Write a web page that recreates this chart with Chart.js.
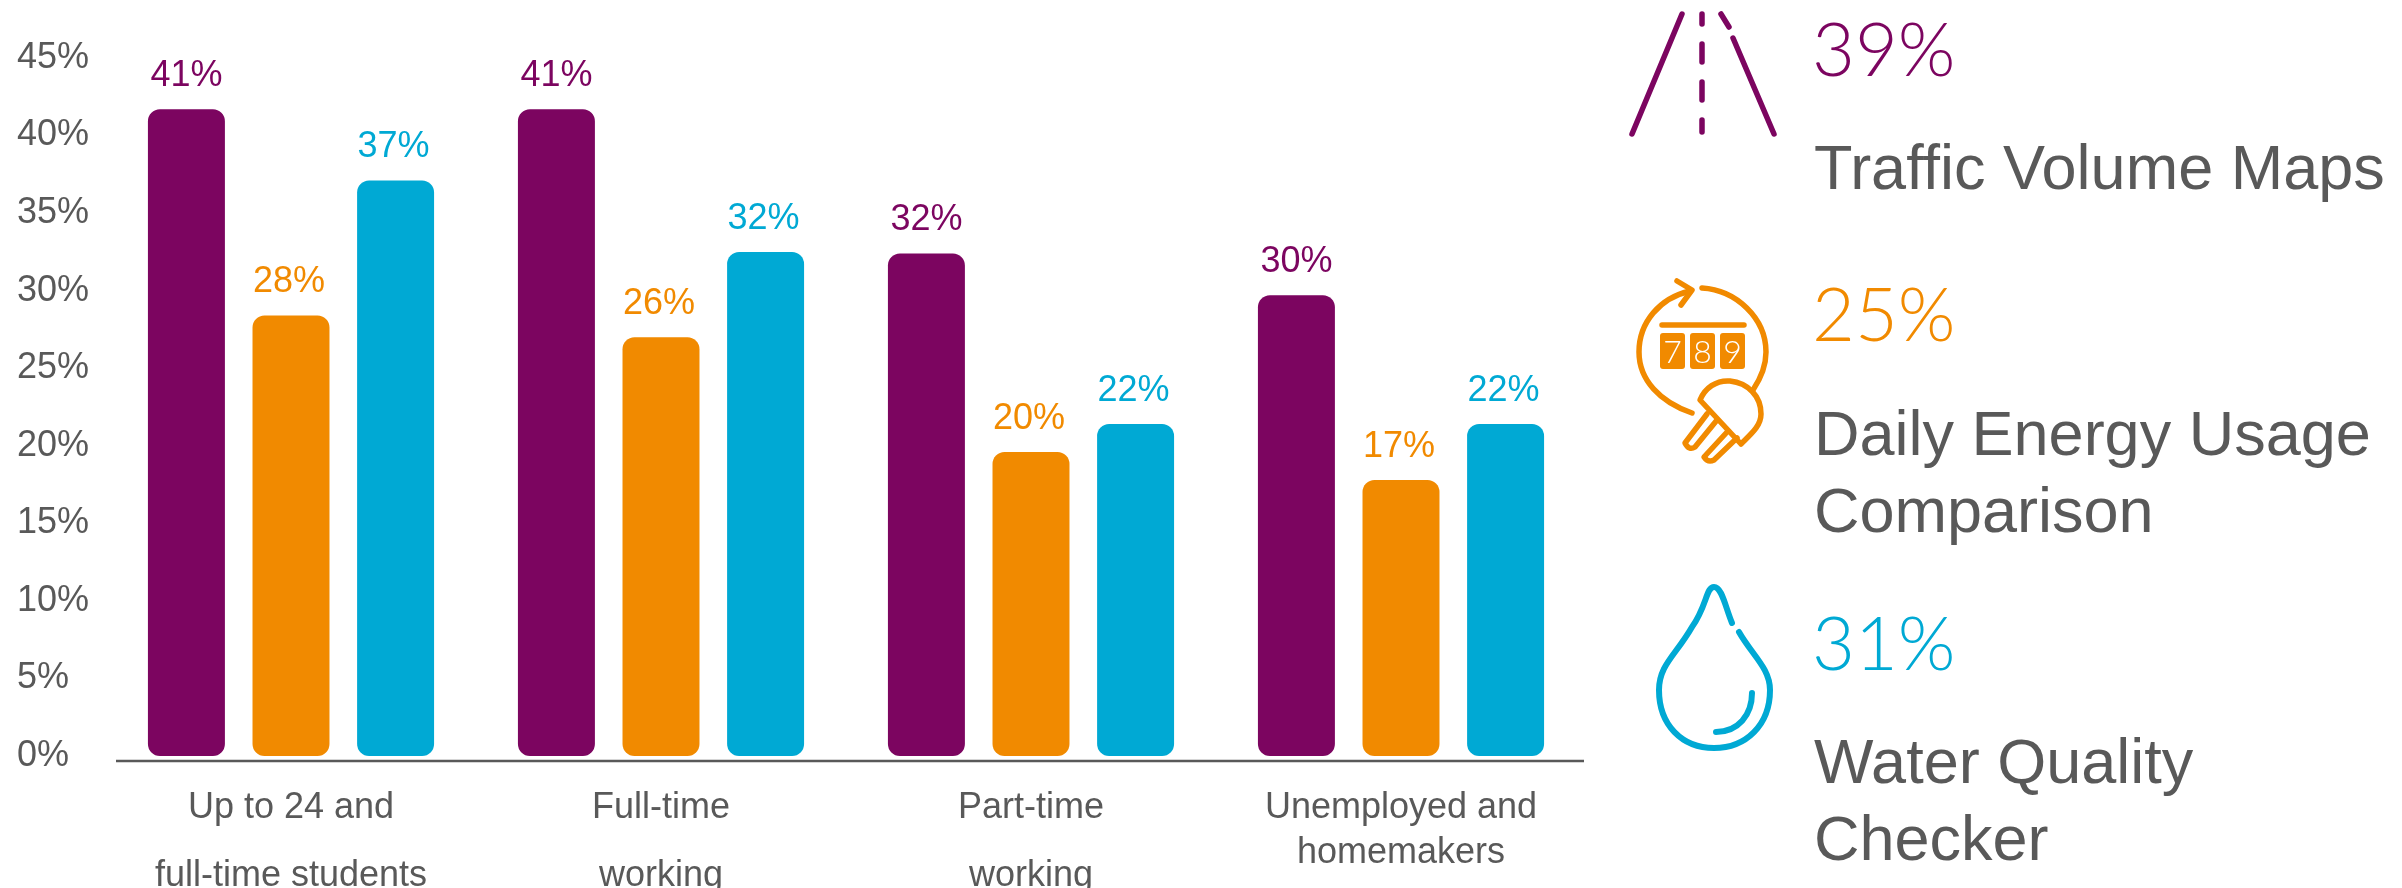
<!DOCTYPE html>
<html>
<head>
<meta charset="utf-8">
<title>Chart</title>
<script src="https://cdn.jsdelivr.net/npm/chart.js@4"></script>
<style>
  html, body { margin: 0; padding: 0; background: #fff; }
  #page { position: relative; width: 2402px; height: 888px; overflow: hidden; }
  #myChart { position: absolute; left: 0; top: 0; }
  #icons { position: absolute; left: 0; top: 0; }
  .pct { position: absolute; left: 1812px; font: 300 74px/80px Lato, "Open Sans", sans-serif; white-space: nowrap; }
  .name { position: absolute; left: 1814px; font: 63px/77px "Liberation Sans", Arial, sans-serif; color: #595959; white-space: nowrap; }
</style>
</head>
<body>
<div id="page">
  <canvas id="myChart" width="1600" height="888"></canvas>

  <svg id="icons" width="2402" height="888" fill="none" stroke-linecap="round" stroke-linejoin="round">
    <!-- road -->
    <g stroke="#7C0560" stroke-width="5.5">
      <path d="M1682 14 L1632 134 M1721 14 L1729 27 M1733 38 L1774 134"/>
      <path d="M1702 14 V24 M1702 44 V62 M1702 82 V100 M1702 120 V132"/>
    </g>
    <!-- energy meter -->
    <g stroke="#F18A00" stroke-width="5.5">
      <path d="M1702 288 C1736 290 1766 318 1766 352 C1766 366 1761 378 1753 390"/>
      <path d="M1692 413 C1660 402 1639 380 1639 352 C1639 322 1660 298 1690 291"/>
      <path d="M1677 281 L1692 290 L1681 305"/>
      <path d="M1662 325 H1744"/>
      <path d="M1700 400 C1705 388 1716 380 1730 381 C1748 383 1761 396 1761 414 C1761 426 1751 434 1741 444 Z"/>
      <path d="M1707 414 L1685 443 Q1689 451 1695 447 L1717 420"/>
      <path d="M1728 431 L1704 457 Q1708 463 1714 460 L1737 438"/>
    </g>
    <g fill="#F18A00">
      <rect x="1660" y="333" width="25" height="36" rx="3"/>
      <rect x="1690" y="333" width="25" height="36" rx="3"/>
      <rect x="1720" y="333" width="25" height="36" rx="3"/>
    </g>
    <g fill="#fff" font-family="Lato, sans-serif" font-weight="300" font-size="32" text-anchor="middle">
      <text x="1672.5" y="363">7</text>
      <text x="1702.5" y="363">8</text>
      <text x="1732.5" y="363">9</text>
    </g>
    <!-- water drop -->
    <g stroke="#00A9D4" stroke-width="6">
      <path d="M1732 623 C1725 606 1722 587 1714 587 C1706 587 1707 606 1692 627 C1676 655 1659 665 1659 690 C1659 725 1682 748 1714 748 C1746 748 1770 725 1770 690 C1770 668 1752 655 1739 632"/>
      <path d="M1752 693 C1752 715 1738 732 1716 732"/>
    </g>
  </svg>

  <div class="pct" id="pct0" style="top:8px;color:#7C0560"></div>
  <div class="name" id="name0" style="top:129px"></div>
  <div class="pct" id="pct1" style="top:273px;color:#F18A00"></div>
  <div class="name" id="name1" style="top:395px"></div>
  <div class="pct" id="pct2" style="top:602px;color:#00A9D4"></div>
  <div class="name" id="name2" style="top:723px"></div>
</div>

<script>
// blank strings space out the lines, the groups do not share a line spacing
const categorias = [
  ['Up to 24 and', '', '', 'full-time students'],
  ['Full-time', '', '', 'working'],
  ['Part-time', '', '', 'working'],
  ['Unemployed and', '', 'homemakers']
]
const ticksY = [0, 5, 10, 15, 20, 25, 30, 35, 40, 45]

const valoresTrafico = [41.7, 41.7, 32.4, 29.7]
const valoresEnergia = [28.4, 27, 19.6, 17.8]
const valoresAgua = [37.1, 32.5, 21.4, 21.4]

const etiquetasTrafico = [41, 41, 32, 30]
const etiquetasEnergia = [28, 26, 20, 17]
const etiquetasAgua = [37, 32, 22, 22]

const porcentajes = [39, 25, 31]
const nombres = [
  'Traffic Volume Maps',
  'Daily Energy Usage<br>Comparison',
  'Water Quality<br>Checker'
]

const morado = '#7C0560'
const naranja = '#F18A00'
const azul = '#00A9D4'
const gris = '#595959'
const fuente = '"Liberation Sans", Arial, sans-serif'

porcentajes.forEach((p, i) => {
  document.getElementById('pct' + i).textContent = p + '%'
  document.getElementById('name' + i).innerHTML = nombres[i]
})

function serie(label, data, color, etiquetas) {
  return {
    label: label,
    data: data,
    etiquetas: etiquetas,
    backgroundColor: color,
    barPercentage: 0.736,
    categoryPercentage: 0.848,
    borderRadius: 12,
    borderSkipped: false
  }
}

// value labels over the bars
const etiquetasPlugin = {
  id: 'etiquetas',
  afterDatasetsDraw(chart) {
    const ctx = chart.ctx
    ctx.save()
    ctx.font = '36px ' + fuente
    ctx.textAlign = 'center'
    ctx.textBaseline = 'middle'
    chart.data.datasets.forEach((ds, d) => {
      ctx.fillStyle = ds.backgroundColor
      chart.getDatasetMeta(d).data.forEach((bar, i) => {
        ctx.fillText(ds.etiquetas[i] + '%', bar.x - (d > 0 ? 2 : 0), bar.y - 33)
      })
    })
    ctx.restore()
  }
}

// the base line sits a little under the zero of the bars
const lineaBasePlugin = {
  id: 'lineaBase',
  afterDraw(chart) {
    const ctx = chart.ctx
    const area = chart.chartArea
    ctx.save()
    ctx.strokeStyle = gris
    ctx.lineWidth = 2.5
    ctx.beginPath()
    ctx.moveTo(area.left + 10, area.bottom + 5)
    ctx.lineTo(area.right - 2, area.bottom + 5)
    ctx.stroke()
    ctx.restore()
  }
}

new Chart(document.getElementById('myChart'), {
  type: 'bar',
  data: {
    labels: categorias,
    datasets: [
      serie('Traffic Volume Maps', valoresTrafico, morado, etiquetasTrafico),
      serie('Daily Energy Usage Comparison', valoresEnergia, naranja, etiquetasEnergia),
      serie('Water Quality Checker', valoresAgua, azul, etiquetasAgua)
    ]
  },
  options: {
    responsive: false,
    animation: false,
    layout: { padding: { left: 17, top: 58, right: 14, bottom: 0 } },
    plugins: { legend: { display: false }, tooltip: { enabled: false } },
    scales: {
      x: {
        grid: { display: false },
        border: { display: false },
        afterFit: (s) => { s.height = 132 },
        ticks: {
          color: gris,
          maxRotation: 0,
          autoSkip: false,
          padding: 33,
          font: { family: fuente, size: 36, lineHeight: '22.5px' }
        }
      },
      y: {
        min: 0,
        max: 45,
        grid: { display: false },
        border: { display: false },
        afterFit: (s) => { s.width = 89 },
        afterBuildTicks: (s) => { s.ticks = ticksY.map((v) => ({ value: v })) },
        ticks: {
          color: gris,
          crossAlign: 'far',
          padding: 16,
          font: { family: fuente, size: 36 },
          callback: (v) => v + '%'
        }
      }
    }
  },
  plugins: [etiquetasPlugin, lineaBasePlugin]
})
</script>
</body>
</html>
